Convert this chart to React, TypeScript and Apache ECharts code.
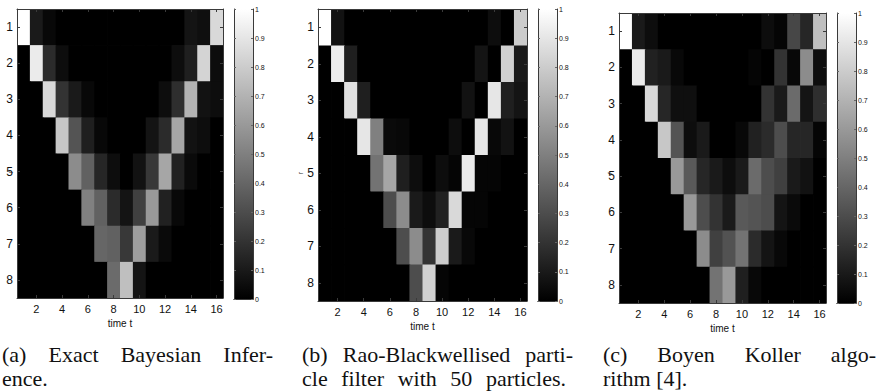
import React, { useEffect, useRef } from 'react';
import * as echarts from 'echarts';

// ---------- data ----------
const timeSteps = ['1', '2', '3', '4', '5', '6', '7', '8', '9', '10', '11', '12', '13', '14', '15', '16'];
const states = ['1', '2', '3', '4', '5', '6', '7', '8'];

// (a) Exact Bayesian Inference: rows = state r (1..8), cols = time t (1..16)
const exactBayes = [
  [1.0, 0.10, 0.03, 0, 0, 0, 0, 0, 0, 0, 0, 0, 0, 0.08, 0.06, 0.85],
  [0, 0.92, 0.17, 0.05, 0, 0, 0, 0, 0, 0, 0, 0, 0.05, 0.12, 0.83, 0.05],
  [0, 0, 0.85, 0.20, 0.10, 0.03, 0, 0, 0, 0, 0, 0.05, 0.18, 0.70, 0.07, 0.05],
  [0, 0, 0, 0.78, 0.33, 0.12, 0.03, 0, 0, 0, 0.08, 0.17, 0.65, 0.07, 0.05, 0],
  [0, 0, 0, 0, 0.55, 0.38, 0.15, 0.05, 0, 0.07, 0.22, 0.65, 0.13, 0.04, 0, 0],
  [0, 0, 0, 0, 0, 0.50, 0.38, 0.17, 0.08, 0.25, 0.60, 0.13, 0.03, 0, 0, 0],
  [0, 0, 0, 0, 0, 0, 0.40, 0.38, 0.22, 0.62, 0.10, 0.04, 0, 0, 0, 0],
  [0, 0, 0, 0, 0, 0, 0, 0.42, 0.75, 0.08, 0, 0, 0, 0, 0, 0],
];

// (b) Rao-Blackwellised particle filter with 50 particles
const raoBlackwell = [
  [1.0, 0.07, 0, 0, 0, 0, 0, 0, 0, 0, 0, 0, 0, 0.05, 0, 0.80],
  [0, 0.93, 0.12, 0, 0, 0, 0, 0, 0, 0, 0, 0, 0.08, 0, 0.82, 0.10],
  [0, 0, 0.88, 0.12, 0, 0, 0, 0, 0, 0, 0, 0.07, 0, 0.90, 0.12, 0.08],
  [0, 0, 0, 0.90, 0.50, 0.04, 0.03, 0, 0, 0, 0.05, 0, 0.90, 0.03, 0.07, 0],
  [0, 0, 0, 0, 0.45, 0.65, 0.12, 0.05, 0, 0.05, 0.02, 0.92, 0.02, 0.02, 0, 0],
  [0, 0, 0, 0, 0, 0.30, 0.55, 0.10, 0.05, 0.13, 0.85, 0.02, 0.02, 0, 0, 0],
  [0, 0, 0, 0, 0, 0, 0.30, 0.55, 0.20, 0.80, 0.10, 0.03, 0, 0, 0, 0],
  [0, 0, 0, 0, 0, 0, 0, 0.30, 0.82, 0.02, 0, 0, 0, 0, 0, 0],
];

// (c) Boyen Koller algorithm
const boyenKoller = [
  [1.0, 0.10, 0.05, 0, 0, 0, 0, 0, 0, 0, 0, 0.05, 0.02, 0.28, 0.15, 0.75],
  [0, 0.92, 0.13, 0.10, 0.03, 0, 0, 0, 0, 0, 0.02, 0, 0.20, 0.03, 0.55, 0.05],
  [0, 0, 0.85, 0.15, 0.06, 0.06, 0, 0, 0, 0, 0, 0.20, 0.10, 0.42, 0.08, 0.18],
  [0, 0, 0, 0.78, 0.33, 0.05, 0.10, 0, 0, 0.03, 0.13, 0.17, 0.30, 0.15, 0.15, 0.02],
  [0, 0, 0, 0, 0.60, 0.35, 0.15, 0.10, 0.05, 0.10, 0.42, 0.30, 0.25, 0.10, 0.07, 0],
  [0, 0, 0, 0, 0, 0.60, 0.30, 0.20, 0.10, 0.35, 0.33, 0.30, 0.08, 0.04, 0, 0],
  [0, 0, 0, 0, 0, 0, 0.55, 0.25, 0.32, 0.45, 0.17, 0.08, 0.03, 0, 0, 0],
  [0, 0, 0, 0, 0, 0, 0, 0.45, 0.60, 0.12, 0.03, 0, 0, 0, 0, 0],
];

const xAxisTitle = 'time t';
const yAxisTitle = 'r';

const captionA = ['(a) Exact Bayesian Infer-', 'ence.'];
const captionB = ['(b) Rao-Blackwellised parti-', 'cle filter with 50 particles.'];
const captionC = ['(c) Boyen Koller algo-', 'rithm [4].'];

// ---------- layout ----------
const tickFont = 'Liberation Sans Narrow, Liberation Sans, Arial, sans-serif';
const capFontFamily = 'Liberation Serif, Times New Roman, serif';
const capFontSize = 22;

const panels = [
  {
    matrix: exactBayes,
    caption: captionA,
    grid: { left: 17, top: 9, width: 206, height: 289 },
    cbar: { left: 234, top: 9, width: 19, height: 290 },
    rMark: [10, 172],
    capLeft: 2, capRight: 273, line2Right: null as number | null,
  },
  {
    matrix: raoBlackwell,
    caption: captionB,
    grid: { left: 318, top: 9, width: 209, height: 292 },
    cbar: { left: 538, top: 9, width: 19, height: 292 },
    rMark: [300, 173],
    capLeft: 302, capRight: 573, line2Right: 566 as number | null,
  },
  {
    matrix: boyenKoller,
    caption: captionC,
    grid: { left: 619, top: 13, width: 207, height: 290 },
    cbar: { left: 837, top: 13, width: 19, height: 290 },
    rMark: [609, 173],
    capLeft: 603, capRight: 876, line2Right: null as number | null,
  },
];

function measurer() {
  const c = document.createElement('canvas');
  const ctx = c.getContext('2d')!;
  ctx.font = `${capFontSize}px "Liberation Serif", serif`;
  return (t: string) => ctx.measureText(t).width;
}

function justifiedWords(line: string, left: number, right: number, y: number, measure: (t: string) => number) {
  const words = line.split(' ');
  const widths = words.map(measure);
  const total = widths.reduce((a, b) => a + b, 0);
  const gap = words.length > 1 ? (right - left - total) / (words.length - 1) : 0;
  const out: any[] = [];
  let x = left;
  words.forEach((w, i) => {
    out.push({
      type: 'text',
      x,
      y,
      silent: true,
      style: {
        text: w,
        fontSize: capFontSize,
        fontFamily: capFontFamily,
        fill: '#111',
        align: 'left',
        verticalAlign: 'middle',
      },
    });
    x += widths[i] + gap;
  });
  return out;
}

function buildOption() {
  const grid: any[] = [];
  const xAxis: any[] = [];
  const yAxis: any[] = [];
  const series: any[] = [];
  const graphic: any[] = [];
  const measure = measurer();
  const boxColor = '#3a3a3a';
  const evenOnly = (idx: number) => idx % 2 === 1;
  const heatSeriesIdx: number[] = [];

  panels.forEach((p, i) => {
    const gHeat = grid.length;
    grid.push({ ...p.grid, containLabel: false });
    const gBar = grid.length;
    grid.push({ ...p.cbar, containLabel: false });

    // heatmap axes
    const xBottom = xAxis.length;
    xAxis.push({
      type: 'category', gridIndex: gHeat, data: timeSteps, position: 'bottom', z: 5,
      name: xAxisTitle, nameLocation: 'middle', nameGap: 17,
      nameTextStyle: { fontSize: 10, fontFamily: tickFont, color: '#111' },
      axisLine: { show: true, lineStyle: { color: boxColor, width: 1 } },
      axisTick: { show: true, inside: true, length: 3, alignWithLabel: true, interval: evenOnly, lineStyle: { color: boxColor } },
      axisLabel: { show: true, interval: evenOnly, fontSize: 11, fontFamily: tickFont, color: '#111', margin: 5 },
      splitLine: { show: false },
    });
    xAxis.push({
      type: 'category', gridIndex: gHeat, data: timeSteps, position: 'top', z: 5,
      axisLine: { show: true, lineStyle: { color: boxColor, width: 1 } },
      axisTick: { show: true, inside: true, length: 3, alignWithLabel: true, interval: evenOnly, lineStyle: { color: boxColor } },
      axisLabel: { show: false },
      splitLine: { show: false },
    });
    const yLeft = yAxis.length;
    yAxis.push({
      type: 'category', gridIndex: gHeat, data: states, inverse: true, position: 'left', z: 5,
      axisLine: { show: true, lineStyle: { color: boxColor, width: 1 } },
      axisTick: { show: true, inside: true, length: 3, alignWithLabel: true, interval: 0, lineStyle: { color: boxColor } },
      axisLabel: { show: true, interval: 0, fontSize: 12, fontFamily: tickFont, color: '#111', margin: 4 },
      splitLine: { show: false },
    });
    yAxis.push({
      type: 'category', gridIndex: gHeat, data: states, inverse: true, position: 'right', z: 5,
      axisLine: { show: true, lineStyle: { color: boxColor, width: 1 } },
      axisTick: { show: true, inside: true, length: 3, alignWithLabel: true, interval: 0, lineStyle: { color: boxColor } },
      axisLabel: { show: false },
      splitLine: { show: false },
    });

    // colorbar axes
    const xBar = xAxis.length;
    xAxis.push({
      type: 'category', gridIndex: gBar, data: [''], position: 'bottom', z: 5,
      axisLine: { show: true, lineStyle: { color: boxColor, width: 1 } },
      axisTick: { show: false }, axisLabel: { show: false }, splitLine: { show: false },
    });
    xAxis.push({
      type: 'category', gridIndex: gBar, data: [''], position: 'top', z: 5,
      axisLine: { show: true, lineStyle: { color: boxColor, width: 1 } },
      axisTick: { show: false }, axisLabel: { show: false }, splitLine: { show: false },
    });
    const yBar = yAxis.length;
    yAxis.push({
      type: 'value', gridIndex: gBar, min: 0, max: 1, interval: 0.1, position: 'right', z: 5,
      axisLine: { show: true, lineStyle: { color: boxColor, width: 1 } },
      axisTick: { show: true, inside: true, length: 2, lineStyle: { color: '#666' } },
      axisLabel: { show: true, fontSize: 7, fontFamily: tickFont, color: '#111', margin: 2 },
      splitLine: { show: false },
    });
    yAxis.push({
      type: 'value', gridIndex: gBar, min: 0, max: 1, interval: 0.1, position: 'left', z: 5,
      axisLine: { show: true, lineStyle: { color: boxColor, width: 1 } },
      axisTick: { show: true, inside: true, length: 2, lineStyle: { color: '#666' } },
      axisLabel: { show: false },
      splitLine: { show: false },
    });

    const data: number[][] = [];
    p.matrix.forEach((row, r) => row.forEach((v, c) => data.push([c, r, v])));
    heatSeriesIdx.push(series.length);
    series.push({
      type: 'custom', name: `panel${i}`, xAxisIndex: xBottom, yAxisIndex: yLeft,
      clip: true, silent: true,
      encode: { x: 0, y: 1 },
      data,
      renderItem: (params: any, api: any) => {
        const c = api.value(0);
        const r = api.value(1);
        const center = api.coord([c, r]);
        const size = api.size([1, 1]);
        const w = size[0];
        const h = size[1];
        return {
          type: 'rect',
          shape: { x: center[0] - w / 2, y: center[1] - h / 2, width: w + 0.8, height: h + 0.8 },
          style: { fill: api.visual('color'), stroke: null },
        };
      },
    });
    series.push({
      type: 'bar', xAxisIndex: xBar, yAxisIndex: yBar, data: [1], barWidth: '100%',
      silent: true,
      itemStyle: {
        color: new echarts.graphic.LinearGradient(0, 0, 0, 1, [
          { offset: 0, color: '#ffffff' },
          { offset: 1, color: '#000000' },
        ]),
      },
    });

    // clipped y label mark
    graphic.push({
      type: 'text', x: p.rMark[0], y: p.rMark[1], rotation: Math.PI / 2, silent: true,
      style: { text: yAxisTitle, fontSize: 7, fontFamily: tickFont, fill: '#333', align: 'center', verticalAlign: 'middle' },
    });

    // captions
    graphic.push(...justifiedWords(p.caption[0], p.capLeft, p.capRight, 354, measure));
    if (p.line2Right != null) {
      graphic.push(...justifiedWords(p.caption[1], p.capLeft, p.line2Right, 378, measure));
    } else {
      graphic.push({
        type: 'text', x: p.capLeft, y: 378, silent: true,
        style: { text: p.caption[1], fontSize: capFontSize, fontFamily: capFontFamily, fill: '#111', align: 'left', verticalAlign: 'middle' },
      });
    }
  });

  return {
    animation: false,
    backgroundColor: '#ffffff',
    grid,
    xAxis,
    yAxis,
    visualMap: {
      type: 'continuous', show: false, min: 0, max: 1, dimension: 2,
      seriesIndex: heatSeriesIdx,
      inRange: { color: ['#000000', '#ffffff'] },
    },
    series,
    graphic,
  };
}

export default function App() {
  const ref = useRef<HTMLDivElement>(null);
  useEffect(() => {
    if (!ref.current) return;
    const chart = echarts.init(ref.current, undefined, { renderer: 'svg' });
    chart.setOption(buildOption() as any);
    return () => chart.dispose();
  }, []);
  return (
    <div
      ref={ref}
      style={{ position: 'absolute', left: 0, top: 0, width: 876, height: 391, background: '#fff' }}
    />
  );
}
